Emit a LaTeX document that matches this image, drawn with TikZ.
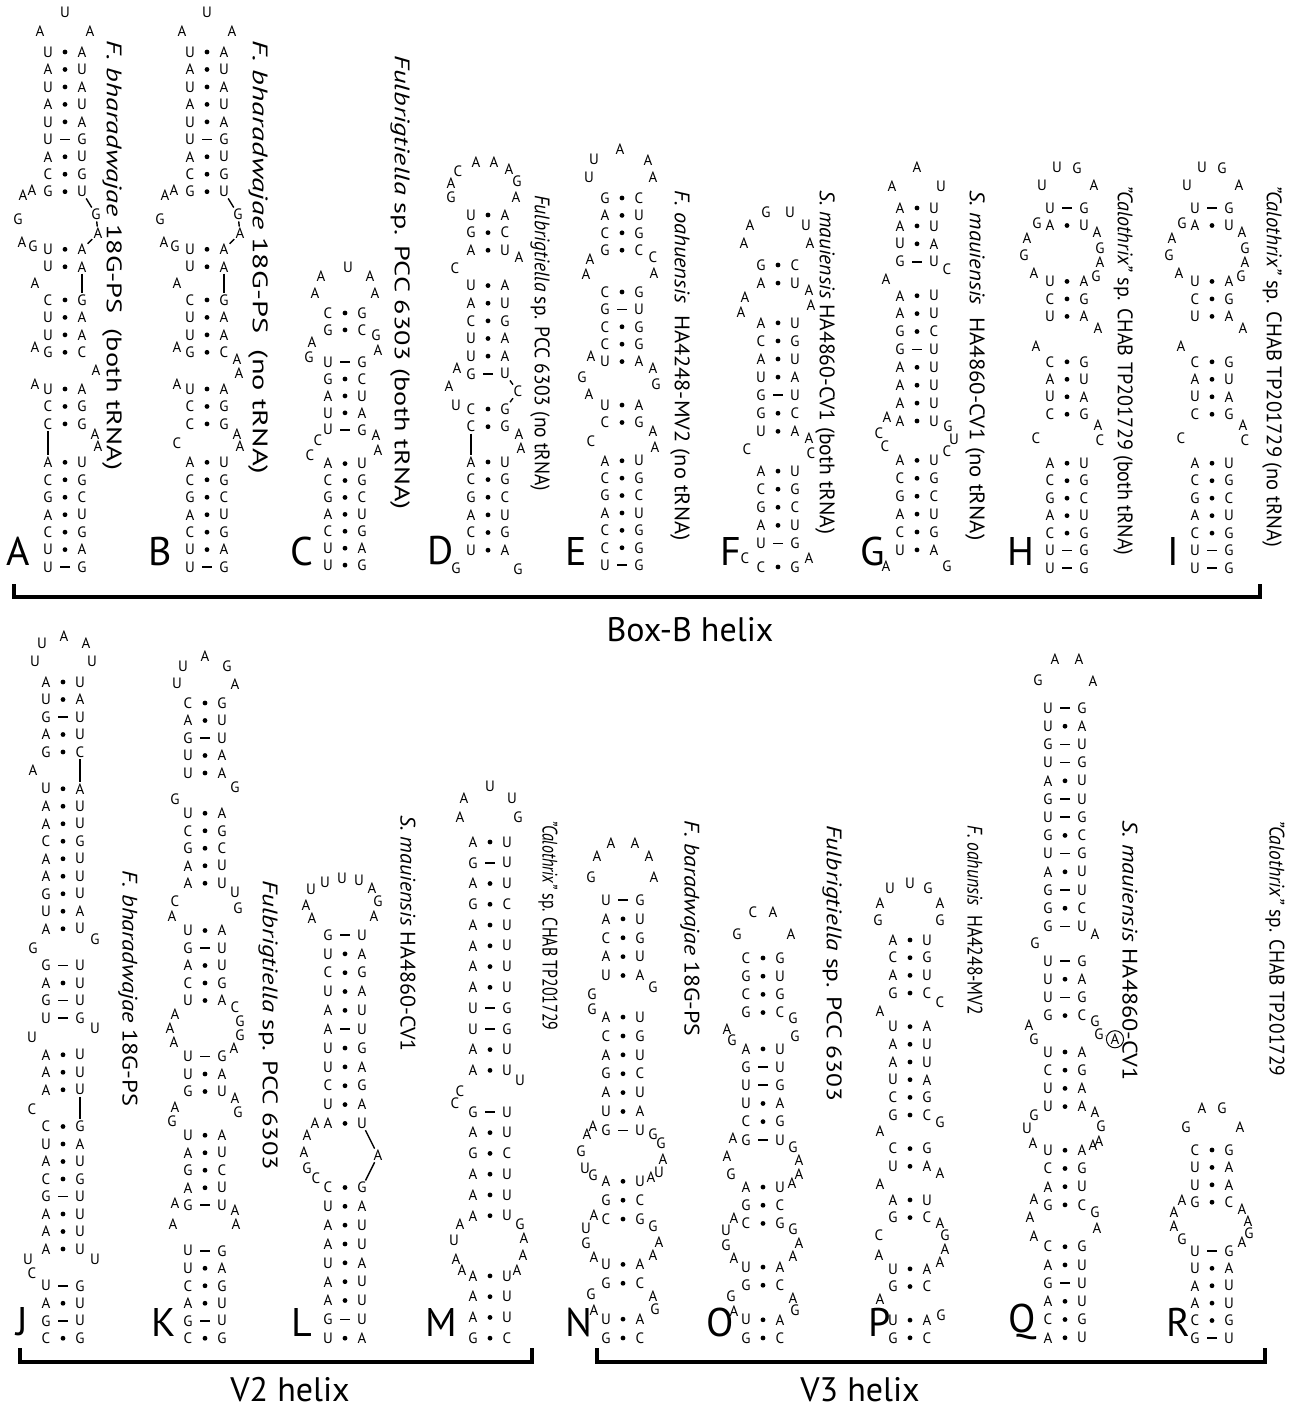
\documentclass[tikz,border=0pt]{standalone}
\usepackage{fontspec}
\setmainfont{PT Sans}
\usepackage{graphicx}
\newcommand{\ntfont}{\fontsize{7.5}{7.5}\selectfont}
\newcommand{\labfont}{\fontsize{10.5}{10.5}\selectfont}
\newcommand{\panfont}{\fontsize{20}{20}\selectfont}
\newcommand{\hlxfont}{\fontsize{17}{17}\selectfont}
\tikzset{
  nt/.style={font=\ntfont,inner sep=0pt},
  bondd/.style={circle,fill,inner sep=0pt,minimum size=2.4pt},
  bondl/.style={fill,inner sep=0pt,minimum width=5pt,minimum height=0.8pt},
  bb/.style={line width=0.7pt,shorten >=0.6pt,shorten <=0.6pt},
  lab/.style={rotate=-90,anchor=west,inner sep=0pt,font=\labfont},
  panel/.style={font=\panfont,inner sep=0pt},
  brk/.style={line width=1.6pt},
  hlx/.style={font=\hlxfont,inner sep=0pt}
}
% paired stem: name, first row, left/bond/right
\newcommand{\helix}[3]{\foreach \lb/\bd/\rb [count=\i from 0] in {#3}{%
  \node[nt] (#1l\i) at (-17,#2+\i) {\lb};
  \node[bond\bd] (#1b\i) at (0,#2+\i) {};
  \node[nt] (#1r\i) at (17,#2+\i) {\rb};}}
% unpaired bases: name, x/row/base
\newcommand{\bases}[2]{\foreach \px/\py/\nb [count=\i] in {#2}{%
  \node[nt] (#1\i) at (\px,\py) {\nb};}}
\newcommand{\species}[4]{\node[lab] (#1) at (#2) {\resizebox{#3}{\height}{#4}};}

\begin{document}
\begin{tikzpicture}[x=0.5pt,y=-0.5pt]
\useasboundingbox (0,0) rectangle (1298,1405);

% ---- Box-B helix ----
% A
\begin{scope}[shift={(65,52)},y=-8.73pt]
\bases{Aq}{0/-2.3/U,-25/-1.2/A,25/-1.2/A}
\helix{Aa}{0}{U/d/A,A/d/U,U/d/A,A/d/U,U/d/A,U/l/G,A/d/U,C/d/G,G/d/U}
\bases{Ai}{-33/7.9/A,-42/8.2/A,-47/9.6/G,-43/10.9/A,-32/11.1/G,31/9.3/G,33/10.4/A}
\helix{Ab}{11.3}{U/d/A,U/d/A}
\bases{Ac}{-30/13.25/A}
\helix{Ad}{14.2}{C/d/G,U/d/A,U/d/A,G/d/C}
\bases{Ae}{-30/16.9/A,31/18.2/A,-30/19.0/A}
\helix{Af}{19.3}{U/d/A,C/d/G,C/d/G}
\bases{Ag}{30/21.9/A,33/22.6/A}
\helix{Ah}{23.5}{A/d/U,C/d/G,G/d/C,A/d/U,C/d/G,U/d/A,U/l/G}
\draw[bb] (Aar8) -- (Ai6); \draw[bb] (Ai6) -- (Ai7); \draw[bb] (Ai7) -- (Abr0);
\draw[bb] (Abr1) -- (Adr0);
\draw[bb] (Afl2) -- (Ahl0);
\end{scope}
% B
\begin{scope}[shift={(207,52)},y=-8.73pt]
\bases{Bq}{0/-2.3/U,-25/-1.2/A,25/-1.2/A}
\helix{Ba}{0}{U/d/A,A/d/U,U/d/A,A/d/U,U/d/A,U/l/G,A/d/U,C/d/G,G/d/U}
\bases{Bi}{-33/7.9/A,-42/8.2/A,-47/9.6/G,-43/10.9/A,-32/11.1/G,31/9.3/G,33/10.4/A}
\helix{Bb}{11.3}{U/d/A,U/d/A}
\bases{Bc}{-30/13.25/A}
\helix{Bd}{14.2}{C/d/G,U/d/A,U/d/A,G/d/C}
\bases{Be}{-30/16.9/A,30/17.6/A,32/18.4/A,-30/19.0/A}
\helix{Bf}{19.3}{U/d/A,C/d/G,C/d/G}
\bases{Bg}{30/21.9/A,33/22.6/A,-30/22.4/C}
\helix{Bh}{23.5}{A/d/U,C/d/G,G/d/C,A/d/U,C/d/G,U/d/A,U/l/G}
\draw[bb] (Bar8) -- (Bi6); \draw[bb] (Bi6) -- (Bi7); \draw[bb] (Bi7) -- (Bbr0);
\draw[bb] (Bbr1) -- (Bdr0);
\end{scope}
% C
\begin{scope}[shift={(345,313)},y=-8.46pt]
\bases{Cq}{3/-2.7/U,-24/-2.2/A,25/-2.2/A,-30/-1.2/A,30/-1.2/A}
\helix{Ca}{0}{C/d/G,G/d/C}
\bases{Ci}{31/1.3/G,33/2.2/A,-33/1.7/A,-36/2.6/G}
\helix{Cb}{2.9}{U/l/G,G/d/C,A/d/U,U/d/A,U/l/G}
\bases{Cj}{31/7.2/A,33/8.1/A,-27/7.5/C,-35/8.4/C}
\helix{Cc}{8.9}{A/d/U,C/d/G,G/d/C,A/d/U,C/d/G,U/d/A,U/d/G}
\end{scope}
% D
\begin{scope}[shift={(488,215)},y=-8.82pt]
\bases{Dq}{-30/-2.5/C,-12/-3.0/A,6/-3.0/A,21/-2.6/A,29/-1.9/G,28/-1.0/A,-37/-1.8/A,-37/-1.0/G}
\helix{Da}{0}{U/d/A,G/d/C,A/d/U}
\bases{Di}{31/2.4/A,-33/3.0/C}
\helix{Db}{4}{U/d/A,A/d/U,C/d/G,U/d/A,U/d/A,G/l/U}
\bases{Dj}{-31/8.7/A,-39/9.7/A,-32/10.8/U,30/10.0/C}
\helix{Dc}{11}{C/d/G,C/d/G}
\bases{Dk}{31/12.4/A,33/13.2/A}
\helix{Dd}{14}{A/d/U,C/d/G,G/d/C,A/d/U,C/d/G,U/d/A}
\bases{Dm}{-32/20.0/G,30/20.1/G}
\draw[bb] (Dbr5) -- (Dj4); \draw[bb] (Dj4) -- (Dcr0);
\draw[bb] (Dcl1) -- (Ddl0);
\end{scope}
% E
\begin{scope}[shift={(622,198)},y=-8.70pt]
\bases{Eq}{-2/-2.8/A,-28/-2.2/U,26/-2.2/A,-33/-1.2/U,31/-1.2/A}
\helix{Ea}{0}{G/d/C,A/d/U,C/d/G,G/d/C}
\bases{Ei}{-32/3.5/A,-36/4.4/A,31/3.4/C,32/4.3/A}
\helix{Eb}{5.4}{C/d/G,G/l/U,C/d/G,C/d/G,U/d/A}
\bases{Ej}{-31/9.1/A,-40/10.3/G,-33/11.3/A,31/9.8/A,34/10.7/G}
\helix{Ec}{11.9}{U/d/A,C/d/G}
\bases{Ek}{31/13.4/A,33/14.3/A,-31/14.0/C}
\helix{Ed}{15.1}{A/d/U,C/d/G,G/d/C,A/d/U,C/d/G,C/d/G,U/l/G}
\end{scope}
% F
\begin{scope}[shift={(778,265)},y=-9.04pt]
\bases{Fq}{-12/-2.9/G,12/-2.9/U,-28/-2.2/A,28/-2.2/U,-34/-1.2/A,32/-1.2/A}
\helix{Fa}{0}{G/d/C,A/d/U}
\bases{Fi}{31/1.4/A,33/2.2/A,-33/1.8/A,-37/2.6/A}
\helix{Fb}{3.2}{A/d/U,C/d/G,A/d/U,U/d/A,G/l/U,G/d/C,U/d/A}
\bases{Fj}{31/9.6/A,33/10.4/C,-31/10.2/C}
\helix{Fc}{11.4}{A/d/U,C/d/G,G/d/C,A/d/U,U/l/G}
\bases{Fk}{-33/16.2/C,31/16.2/A}
\helix{Fd}{16.7}{C/d/G}
\end{scope}
% G
\begin{scope}[shift={(917,208)},y=-8.95pt]
\bases{Gq}{0/-2.3/A,-25/-1.2/A,24/-1.2/U}
\helix{Ga}{0}{A/d/U,A/d/U,U/d/A,G/l/U}
\bases{Gi}{30/3.4/C,-31/4.0/A}
\helix{Gb}{4.9}{A/d/U,A/d/U,G/d/C,G/l/U,A/d/U,A/d/U,A/d/U,A/d/U}
\bases{Gj}{-30/11.7/A,-38/12.6/C,-32/13.3/C,31/12.2/G,37/12.9/U,30/13.6/C}
\helix{Gc}{14.1}{A/d/U,C/d/G,G/d/C,A/d/U,C/d/G,U/d/A}
\bases{Gk}{-31/20.0/A,30/20.0/G}
\end{scope}
% H
\begin{scope}[shift={(1067,208)},y=-8.74pt]
\bases{Hq}{-10/-2.3/U,10/-2.3/G,-25/-1.3/U,27/-1.3/A}
\helix{Ha}{0}{U/l/G,A/d/U}
\bases{Hi}{-30/0.9/G,-40/1.7/A,-43/2.7/G,-33/3.7/A,30/1.4/A,33/2.3/G,33/3.1/A,29/3.9/G}
\helix{Hb}{4.2}{U/d/A,C/d/G,U/d/A}
\bases{Hj}{31/6.9/A,-31/7.9/A}
\helix{Hc}{8.8}{C/d/G,A/d/U,U/d/A,C/d/G}
\bases{Hk}{31/12.4/A,33/13.3/C,-31/13.2/C}
\helix{Hd}{14.6}{A/d/U,C/d/G,G/d/C,A/d/U,C/d/G,U/l/G,U/l/G}
\end{scope}
% I
\begin{scope}[shift={(1212,208)},y=-8.74pt]
\bases{Iq}{-10/-2.3/U,10/-2.3/G,-25/-1.3/U,27/-1.3/A}
\helix{Ia}{0}{U/l/G,A/d/U}
\bases{Ii}{-30/0.9/G,-40/1.7/A,-43/2.7/G,-33/3.7/A,30/1.4/A,33/2.3/G,33/3.1/A,29/3.9/G}
\helix{Ib}{4.2}{U/d/A,C/d/G,U/d/A}
\bases{Ij}{31/6.9/A,-31/7.9/A}
\helix{Ic}{8.8}{C/d/G,A/d/U,U/d/A,C/d/G}
\bases{Ik}{31/12.4/A,33/13.3/C,-31/13.2/C}
\helix{Id}{14.6}{A/d/U,C/d/G,G/d/C,A/d/U,C/d/G,U/l/G,U/l/G}
\end{scope}

% ---- V2 helix ----
% J
\begin{scope}[shift={(63,682)},y=-8.75pt]
\bases{Jq}{-21/-2.2/U,1/-2.6/A,23/-2.2/A,-28/-1.2/U,29/-1.2/U}
\helix{Ja}{0}{A/d/U,U/d/A,G/l/U,A/d/U,G/d/C}
\bases{Ji}{-30/5.05/A}
\helix{Jb}{6.1}{U/d/A,A/d/U,A/d/U,C/d/G,A/d/U,A/d/U,G/d/U,U/d/A,A/d/U}
\bases{Jj}{32/14.7/G,-30/15.2/G}
\helix{Jc}{16.2}{G/l/U,A/d/U,G/l/U,U/l/G}
\bases{Jk}{32/19.8/U,-31/20.3/U}
\helix{Jd}{21.3}{A/d/U,A/d/U,A/d/U}
\bases{Jm}{-31/24.4/C}
\helix{Je}{25.4}{C/d/G,U/d/A,A/d/U,C/d/G,G/l/U,A/d/U,A/d/U,A/d/U}
\bases{Jn}{32/33.0/U,-35/33.0/U,-31/33.8/C}
\helix{Jf}{34.5}{U/l/G,A/d/U,G/l/U,C/d/G}
\draw[bb] (Jar4) -- (Jbr0);
\draw[bb] (Jdr2) -- (Jer0);
\end{scope}
% K
\begin{scope}[shift={(205,703)},y=-8.75pt]
\bases{Kq}{0/-2.7/A,-22/-2.1/U,22/-2.1/G,-28/-1.1/U,30/-1.1/A}
\helix{Ka}{0}{C/d/G,A/d/U,G/l/U,U/d/A,U/d/A}
\bases{Ki}{30/4.8/G,-30/5.5/G}
\helix{Kb}{6.3}{U/d/A,C/d/G,G/d/C,A/d/U,A/d/U}
\bases{Kj}{30/10.8/U,33/11.7/G,-30/11.3/C,-33/12.2/A}
\helix{Kc}{13}{U/d/A,G/l/U,A/d/U,C/d/G,U/d/A}
\bases{Kk}{30/17.4/C,35/18.2/G,35/19.0/G,29/19.7/A,-30/17.8/A,-35/18.6/A,-31/19.4/A}
\helix{Kd}{20.2}{U/l/G,U/d/A,G/d/U}
\bases{Km}{30/22.6/A,33/23.4/G,-30/23.1/A,-33/23.9/G}
\helix{Ke}{24.7}{U/d/A,A/d/U,G/d/C,A/d/U,G/l/U}
\bases{Kn}{-30/28.6/A,-32/29.8/A,30/29.0/A,31/29.8/A}
\helix{Kf}{31.3}{U/l/G,U/d/A,C/d/G,A/d/U,G/l/U,C/d/G}
\end{scope}
% L
\begin{scope}[shift={(345,935)},y=-9.42pt]
\bases{Lq}{-33/-0.9/A,-39/-1.6/A,-34/-2.4/U,-20/-2.8/U,-3/-3.0/U,14/-2.9/U,27/-2.5/A,33/-1.8/G,29/-1.0/A}
\helix{La}{0}{G/l/U,U/d/A,C/d/G,U/d/A,A/d/U,A/l/U,U/d/G,U/d/A,C/d/G,U/d/A,A/d/U}
\bases{Li}{-30/10.0/A,-38/10.6/A,-41/11.5/A,-38/12.4/G,-29/12.9/C,33/11.7/A}
\helix{Lb}{13.4}{C/d/G,U/d/A,A/d/U,A/d/U,U/d/A,A/d/U,A/d/U,G/l/U,U/d/A}
\draw[bb] (Lar10) -- (Li6); \draw[bb] (Li6) -- (Lbr0);
\end{scope}
% M
\begin{scope}[shift={(490,842)},y=-10.38pt]
\bases{Mq}{0/-2.7/U,-26/-2.1/A,22/-2.1/U,-30/-1.2/A,28/-1.2/G}
\helix{Ma}{0}{A/d/U,G/l/U,A/d/U,G/d/C,A/d/U,A/d/U,A/d/U,A/d/U,U/l/G,U/l/G,A/d/U,A/d/U}
\bases{Mi}{30/11.5/U,-30/12.0/C,-35/12.6/C}
\helix{Mb}{13}{G/l/U,A/d/U,G/d/C,A/d/U,A/d/U,A/d/U}
\bases{Mj}{30/18.4/G,34/19.1/A,33/19.9/A,27/20.6/A,-30/18.4/A,-36/19.2/U,-34/20.1/A,-28/20.6/A}
\helix{Mc}{20.9}{A/d/U,A/d/U,A/d/U,G/d/C}
\end{scope}

% ---- V3 helix ----
% N
\begin{scope}[shift={(623,900)},y=-9.44pt]
\bases{Nq}{-12/-3.0/A,12/-3.0/A,-26/-2.3/A,26/-2.3/A,-32/-1.2/G,31/-1.2/A}
\helix{Na}{0}{U/l/G,A/d/U,C/d/G,A/d/U,U/d/A}
\bases{Ni}{30/4.6/G,-31/5.0/G,-31/5.8/G}
\helix{Nb}{6.2}{A/d/U,C/d/G,A/d/U,G/d/C,A/d/U,U/d/A,G/l/U}
\bases{Nj}{-30/12.0/A,-36/12.4/A,-42/13.3/G,-38/14.2/U,-30/14.6/G,30/12.4/G,38/12.9/G,40/13.7/A,36/14.4/U,28/14.7/A}
\helix{Nc}{14.9}{A/d/U,G/d/C,C/d/G}
\bases{Nk}{-29/16.7/A,-37/17.4/U,-37/18.2/G,-29/18.9/A,30/17.3/G,36/18.1/A,30/18.8/A}
\helix{Nd}{19.3}{U/d/A,G/d/C}
\bases{Nm}{-32/20.9/G,-29/21.7/A,30/21.0/A,32/21.7/G}
\helix{Ne}{22.2}{U/d/A,G/d/C}
\end{scope}
% O
\begin{scope}[shift={(763,958)},y=-9.09pt]
\bases{Oq}{-10/-2.5/C,10/-2.5/A,-26/-1.3/G,28/-1.3/A}
\helix{Oa}{0}{C/d/G,G/d/U,C/d/G,G/d/C}
\bases{Oi}{30/3.3/G,32/4.3/G,-36/3.9/A,-31/4.5/G}
\helix{Ob}{5}{A/d/U,G/l/U,U/l/G,U/d/A,C/d/G,G/l/U}
\bases{Oj}{-30/9.9/A,-36/10.9/A,-32/11.9/G,30/10.4/G,36/11.1/A,36/11.9/A,29/12.4/A}
\helix{Oc}{12.6}{A/d/U,G/d/C,C/d/G}
\bases{Ok}{-29/14.3/A,-37/15.0/U,-37/15.8/G,-29/16.5/A,30/14.9/G,36/15.7/A,30/16.4/A}
\helix{Od}{17}{U/d/A,G/d/C}
\bases{Om}{-32/18.6/G,-29/19.4/A,30/18.7/A,32/19.4/G}
\helix{Oe}{19.9}{U/d/A,G/d/C}
\end{scope}
% P
\begin{scope}[shift={(910,940)},y=-8.84pt]
\bases{Pq}{-20/-2.9/U,0/-3.2/U,18/-2.9/G,-30/-2.1/A,30/-2.1/A,-32/-1.1/G,30/-1.1/G}
\helix{Pa}{0}{A/d/U,C/d/G,A/d/U,G/d/C}
\bases{Pi}{30/3.5/C,-30/4.0/A}
\helix{Pb}{4.9}{U/d/A,A/d/U,A/d/U,U/d/A,C/d/G,G/d/C}
\bases{Pj}{30/10.3/G,-30/10.8/A}
\helix{Pc}{11.8}{C/d/G,U/d/A}
\bases{Pk}{30/13.2/A,-30/13.8/A}
\helix{Pd}{14.7}{A/d/U,G/d/C}
\bases{Pm}{30/16.0/A,35/16.7/G,35/17.5/A,30/18.2/A,-31/16.7/C,-31/17.8/A}
\helix{Pe}{18.6}{U/d/A,G/d/C}
\bases{Pn}{-30/20.3/A,31/21.2/G}
\helix{Pf}{21.5}{U/d/A,G/d/C}
\end{scope}
% Q
\begin{scope}[shift={(1065,708)},y=-9.10pt]
\bases{Qq}{-10/-2.7/A,14/-2.7/A,-27/-1.5/G,28/-1.5/A}
\helix{Qa}{0}{U/l/G,U/d/A,G/l/U,U/l/G,A/d/U,G/l/U,U/l/G,G/d/C,U/l/G,A/d/U,G/l/U,G/d/C,G/l/U}
\bases{Qi}{30/12.4/A,-30/12.9/G}
\helix{Qb}{13.9}{U/l/G,U/d/A,U/l/G,G/d/C}
\bases{Qj}{30/17.2/G,34/17.9/G,-36/17.4/A,-31/18.2/G}
\node[nt,circle,draw,inner sep=0.6pt,line width=0.5pt] (Qx) at (50,18.2) {A};
\draw[bb] (Qj2) -- (Qx);
\helix{Qc}{18.9}{U/d/A,C/d/G,U/d/A,U/d/A}
\bases{Qk}{30/22.2/A,36/23.0/G,34/23.8/A,28/24.0/A,-31/22.4/G,-38/23.1/U,-32/23.9/A}
\helix{Qd}{24.3}{U/d/A,C/d/G,A/d/U,G/d/C}
\bases{Qm}{30/27.7/G,32/28.6/A,-31/27.0/A,-35/28.0/A,-31/29.0/A}
\helix{Qe}{29.6}{C/d/G,A/d/U,G/l/U,A/d/U,C/d/G,A/d/U}
\end{scope}
% R
\begin{scope}[shift={(1212,1150)},y=-8.70pt]
\bases{Rq}{-10/-2.4/A,10/-2.4/G,-26/-1.3/G,28/-1.3/A}
\helix{Ra}{0}{C/d/G,U/d/A,U/d/A,G/d/C}
\bases{Ri}{-30/2.9/A,-38/3.6/A,-38/4.4/A,-30/5.1/G,30/3.4/A,36/4.1/A,37/4.8/G,30/5.3/A}
\helix{Rb}{5.8}{U/l/G,U/d/A,A/d/U,A/d/U,C/d/G,G/l/U}
\end{scope}

% species labels
\species{labA}{112,40}{215pt}{\textit{F. bharadwajae} 18G-PS\ \ (both tRNA)}
\species{labB}{258,40}{217pt}{\textit{F. bharadwajae} 18G-PS\ \ (no tRNA)}
\species{labC}{400,55}{227pt}{\textit{Fulbrigtiella} sp. PCC 6303 (both tRNA)}
\species{labD}{540,195}{148pt}{\textit{Fulbrigtiella} sp. PCC 6303 (no tRNA)}
\species{labE}{680,190}{175pt}{\textit{F. oahuensis}\ \ HA4248-MV2 (no tRNA)}
\species{labF}{825,190}{172pt}{\textit{S. mauiensis} HA4860-CV1 (both tRNA)}
\species{labG}{975,190}{175pt}{\textit{S. mauiensis}\ \ HA4860-CV1 (no tRNA)}
\species{labH}{1123,185}{185pt}{\textit{"Calothrix"} sp. CHAB TP201729 (both tRNA)}
\species{labI}{1272,185}{181pt}{\textit{"Calothrix"} sp. CHAB TP201729 (no tRNA)}
\species{labJ}{128,870}{118pt}{\textit{F. bharadwajae} 18G-PS}
\species{labK}{268,880}{145pt}{\textit{Fulbrigtiella} sp. PCC 6303}
\species{labL}{408,815}{118pt}{\textit{S. mauiensis} HA4860-CV1}
\species{labM}{548,820}{105pt}{\textit{"Calothrix"} sp. CHAB TP201729}
\species{labN}{690,820}{108pt}{\textit{F. baradwajae} 18G-PS}
\species{labO}{832,825}{138pt}{\textit{Fulbrigtiella} sp. PCC 6303}
\species{labP}{975,825}{95pt}{\textit{F. oahunsis}\ \ HA4248-MV2}
\species{labQ}{1130,820}{130pt}{\textit{S. mauiensis} HA4860-CV1}
\species{labR}{1275,820}{128pt}{\textit{"Calothrix"} sp. CHAB TP201729}

% panel letters
\foreach \pl/\px/\py in {A/18/551,B/160/551,C/302/551,D/441/551,E/576/551,F/731/551,G/873/551,H/1021/551,I/1173/551,
  J/22/1322,K/164/1322,L/302/1322,M/441/1322,N/579/1322,O/720/1322,P/880/1322,Q/1022/1322,R/1178/1322}
  \node[panel] (p\pl) at (\px,\py) {\pl};

% brackets
\draw[brk] (14,584) -- (14,597) -- (1260,597) -- (1260,584);
\draw[brk] (20,1348) -- (20,1362) -- (532,1362) -- (532,1348);
\draw[brk] (597,1348) -- (597,1362) -- (1265,1362) -- (1265,1348);
\node[hlx] (hbox) at (690,630) {Box-B helix};
\node[hlx] (hv2) at (290,1390) {V2 helix};
\node[hlx] (hv3) at (860,1390) {V3 helix};
\end{tikzpicture}
\end{document}
